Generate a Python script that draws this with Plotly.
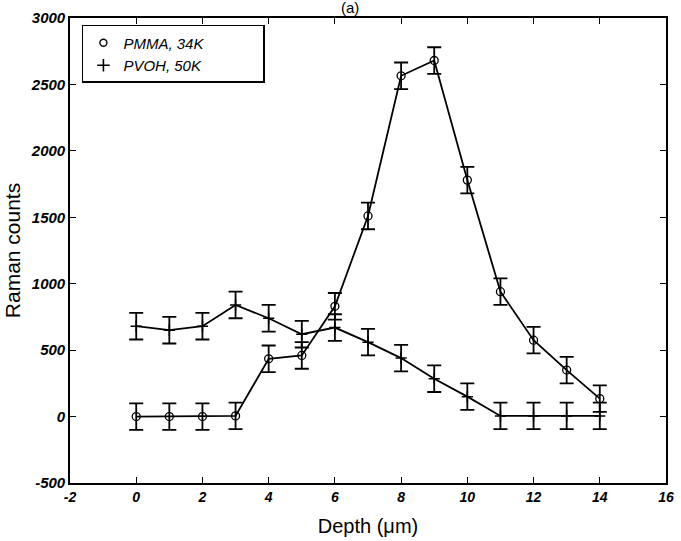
import plotly.graph_objects as go

depth = list(range(15))
pmma = [0, 0, 0, 5, 435, 460, 830, 1510, 2565, 2680, 1780, 940, 575, 350, 135]
pmma_err = [100] * 15
pvoh = [680, 650, 680, 840, 740, 620, 670, 560, 440, 285, 150, 5, 5, 5, 5]
pvoh_err = [100] * 15

x_ticks = [-2, 0, 2, 4, 6, 8, 10, 12, 14, 16]
y_ticks = [-500, 0, 500, 1000, 1500, 2000, 2500, 3000]

FONT = "Liberation Sans, Arial, sans-serif"
PAD = "<span style='color:rgba(0,0,0,0)'>MMMMi</span>"

fig = go.Figure()
err_style = dict(type="data", thickness=1.8, width=7, color="black")
fig.add_trace(go.Scatter(
    x=depth, y=pvoh, mode="lines+markers", showlegend=False,
    line=dict(color="black", width=1.8),
    marker=dict(symbol="cross-thin-open", size=8, color="black", line=dict(color="black", width=1.5)),
    error_y=dict(array=pvoh_err, **err_style)))
fig.add_trace(go.Scatter(
    x=depth, y=pmma, mode="lines+markers", showlegend=False,
    line=dict(color="black", width=1.8),
    marker=dict(symbol="circle-open", size=8, color="black", line=dict(color="black", width=1.3)),
    error_y=dict(array=pmma_err, **err_style)))
# legend-only entries
fig.add_trace(go.Scatter(
    x=[None], y=[None], mode="markers", name="PMMA, 34K" + PAD,
    marker=dict(symbol="circle-open", size=7, color="black", line=dict(color="black", width=1.4))))
fig.add_trace(go.Scatter(
    x=[None], y=[None], mode="markers", name="PVOH, 50K",
    marker=dict(symbol="cross-thin-open", size=9, color="black", line=dict(color="black", width=1.6))))

axis_common = dict(
    showgrid=False, zeroline=False, showline=True, linecolor="black", linewidth=1.6,
    mirror="ticks", ticks="inside", ticklen=6, tickcolor="black", tickwidth=1.3,
    automargin=False,
)

fig.update_layout(
    width=681, height=541,
    margin=dict(l=70, r=15, t=18, b=58),
    paper_bgcolor="white", plot_bgcolor="white",
    xaxis=dict(range=[-2, 16], tickvals=x_ticks, ticktext=[str(v) for v in x_ticks],
               tickfont=dict(family=FONT, size=14, color="black", style="italic", weight="bold"),
               title=dict(text="Depth (μm)", font=dict(family=FONT, size=20, color="black"), standoff=15),
               **axis_common),
    yaxis=dict(range=[-500, 3000], tickvals=y_ticks, ticktext=[str(v) for v in y_ticks],
               tickfont=dict(family=FONT, size=15, color="black", style="italic", weight="bold"),
               ticklabelstandoff=0,
               title=dict(text="Raman counts", font=dict(family=FONT, size=21, color="black"), standoff=4),
               **axis_common),
    legend=dict(x=0.02, y=0.985, xanchor="left", yanchor="top", bgcolor="white",
                bordercolor="black", borderwidth=1.5,
                font=dict(family=FONT, size=15, color="black", style="italic"),
                itemwidth=30, tracegroupgap=0),
    annotations=[dict(text="(a)", xref="paper", yref="paper", x=0.47, y=1.0, xanchor="center",
                      yanchor="bottom", yshift=0, showarrow=False,
                      font=dict(family=FONT, size=15, color="black"))],
)

fig.write_html("out.html")
